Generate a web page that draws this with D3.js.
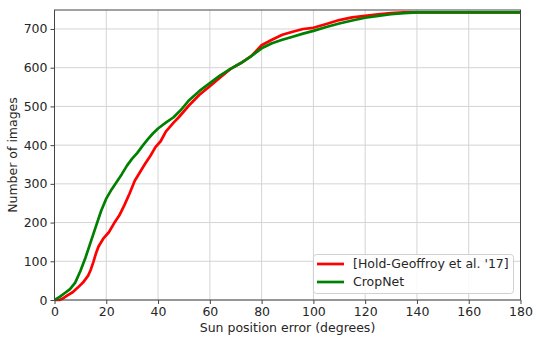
<!DOCTYPE html>
<html>
<head>
<meta charset="utf-8">
<script src="https://cdn.jsdelivr.net/npm/d3@7"></script>
<style>
  body { margin: 0; background: #fff; }
  text { font-family: "DejaVu Sans", sans-serif; fill: #262626; }
</style>
</head>
<body>
<div id="chart"></div>
<script>
const width = 540
const height = 344

// sun position error (degrees) and cumulative number of images
const holdErr = [0, 2, 3, 5, 7, 9, 11, 13, 14, 15, 16, 17, 19, 21, 23, 25, 27, 29, 31, 33, 35, 37, 39, 41, 43, 46, 48, 52, 56, 60, 64, 68, 72, 76, 80, 84, 88, 92, 96, 100, 105, 110, 115, 120, 125, 130, 135, 180]
const holdCount = [0, 0, 3, 12, 20, 32, 45, 63, 78, 98, 120, 138, 160, 175, 198, 218, 245, 275, 308, 330, 352, 372, 395, 410, 435, 458, 472, 503, 530, 552, 575, 597, 612, 630, 658, 672, 685, 693, 700, 703, 713, 723, 730, 734, 738, 741, 743, 743]

const cropErr = [0, 2, 4, 6, 8, 10, 12, 14, 16, 18, 20, 22, 24, 26, 28, 30, 32, 34, 36, 38, 40, 43, 46, 49, 52, 56, 60, 64, 68, 72, 76, 80, 84, 88, 92, 96, 100, 105, 110, 115, 120, 125, 130, 135, 140, 180]
const cropCount = [0, 8, 18, 28, 45, 75, 110, 150, 190, 230, 262, 285, 305, 325, 347, 365, 380, 398, 415, 430, 443, 458, 472, 492, 516, 540, 560, 580, 597, 612, 630, 650, 663, 672, 680, 688, 695, 705, 714, 722, 729, 734, 738, 741, 743, 743]

const seriesNames = ["[Hold-Geoffroy et al. '17]", "CropNet"]
const seriesColors = ["#ff0000", "#008000"]

const xTicks = [0, 20, 40, 60, 80, 100, 120, 140, 160, 180]
const yTicks = [0, 100, 200, 300, 400, 500, 600, 700]

const margin = {top: 10, right: 19.5, bottom: 44, left: 54.5}

const svg = d3.select("#chart")
  .append("svg")
  .attr("width", width)
  .attr("height", height)

const x = d3.scaleLinear()
  .domain([0, 180])
  .range([margin.left, width - margin.right])

const y = d3.scaleLinear()
  .domain([0, 749])
  .range([height - margin.bottom, margin.top])

/* grid */

svg.append("g")
  .selectAll("line.vx")
  .data(xTicks)
  .join("line")
  .attr("x1", d => x(d)).attr("x2", d => x(d))
  .attr("y1", y.range()[0]).attr("y2", y.range()[1])
  .attr("stroke", "#d4d4d4")
  .attr("stroke-width", 1)

svg.append("g")
  .selectAll("line.hy")
  .data(yTicks)
  .join("line")
  .attr("x1", x.range()[0]).attr("x2", x.range()[1])
  .attr("y1", d => y(d)).attr("y2", d => y(d))
  .attr("stroke", "#d4d4d4")
  .attr("stroke-width", 1)

/* curves */

const line = d3.line()
  .x(d => x(d[0]))
  .y(d => y(d[1]))

const series = [
  d3.zip(holdErr, holdCount),
  d3.zip(cropErr, cropCount)
]

svg.append("g")
  .selectAll("path")
  .data(series)
  .join("path")
  .attr("d", line)
  .attr("fill", "none")
  .attr("stroke", (d, i) => seriesColors[i])
  .attr("stroke-width", 2.7)
  .attr("stroke-linejoin", "round")

/* axes */

const xAxis = svg.append("g")
  .attr("transform", `translate(0,${y.range()[0]})`)
  .call(d3.axisBottom(x).tickValues(xTicks).tickSize(4).tickPadding(3))

const yAxis = svg.append("g")
  .attr("transform", `translate(${x.range()[0]},0)`)
  .call(d3.axisLeft(y).tickValues(yTicks).tickSize(4).tickPadding(3))

for (const ax of [xAxis, yAxis]) {
  ax.select(".domain").remove()
  ax.selectAll(".tick line").attr("stroke", "#444")
  ax.selectAll(".tick text")
    .style("font-family", "DejaVu Sans, sans-serif")
    .style("font-size", "12.5px")
    .attr("fill", "#262626")
}

/* frame */

svg.append("rect")
  .attr("x", x.range()[0])
  .attr("y", y.range()[1])
  .attr("width", x.range()[1] - x.range()[0])
  .attr("height", y.range()[0] - y.range()[1])
  .attr("fill", "none")
  .attr("stroke", "#444")
  .attr("stroke-width", 1)

/* labels */

svg.append("text")
  .attr("x", (x.range()[0] + x.range()[1]) / 2)
  .attr("y", 332)
  .attr("text-anchor", "middle")
  .style("font-size", "12.5px")
  .text("Sun position error (degrees)")

svg.append("text")
  .attr("transform", `translate(17,${(y.range()[0] + y.range()[1]) / 2}) rotate(-90)`)
  .attr("text-anchor", "middle")
  .style("font-size", "12.5px")
  .text("Number of images")

/* legend */

const legend = svg.append("g")

legend.append("rect")
  .attr("x", 313.5)
  .attr("y", 254.5)
  .attr("width", 200)
  .attr("height", 39)
  .attr("rx", 3)
  .attr("fill", "#fff")
  .attr("fill-opacity", 0.85)
  .attr("stroke", "#d0d0d0")

const items = legend.selectAll("g.item")
  .data(seriesNames)
  .join("g")
  .attr("transform", (d, i) => `translate(0,${264 + i * 18})`)

items.append("line")
  .attr("x1", 317).attr("x2", 344)
  .attr("stroke", (d, i) => seriesColors[i])
  .attr("stroke-width", 2.7)

items.append("text")
  .attr("x", 353)
  .attr("dy", "0.35em")
  .style("font-size", "12.5px")
  .text(d => d)
</script>
</body>
</html>
